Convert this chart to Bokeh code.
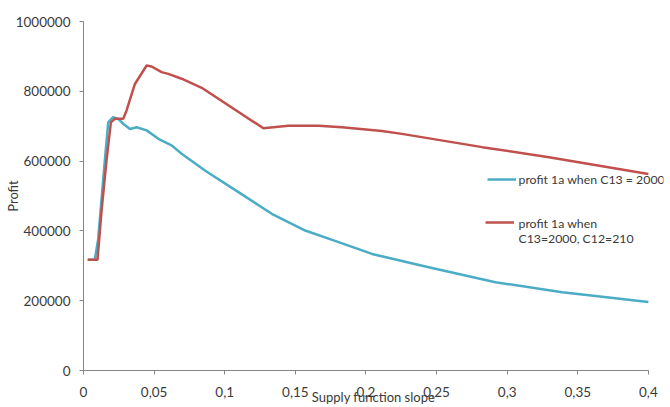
from bokeh.plotting import figure
from bokeh.models import (Range1d, FixedTicker, Legend, LegendItem, Label,
                          BasicTickFormatter)
from bokeh.embed import file_html
from bokeh.resources import INLINE

# ---- data ----
blue_x = [0.003, 0.008, 0.0104, 0.0151, 0.0175, 0.021, 0.0246, 0.0281, 0.0329,
          0.0376, 0.0447, 0.053, 0.0624, 0.0695, 0.086, 0.1097, 0.1333, 0.157,
          0.1806, 0.2043, 0.2444, 0.2917, 0.339, 0.4]
blue_y = [317000, 317000, 377000, 602000, 711000, 726000, 721000, 707000, 692000,
          697000, 688000, 664000, 645000, 621000, 573000, 511000, 449000, 401000,
          368000, 334000, 296000, 253000, 224000, 196000]

red_x = [0.003, 0.0099, 0.0128, 0.0163, 0.0194, 0.0222, 0.0281, 0.0305, 0.0364,
         0.0447, 0.0482, 0.0553, 0.06, 0.0695, 0.0837, 0.1274, 0.145, 0.1664,
         0.183, 0.2113, 0.2255, 0.2823, 0.3296, 0.4]
red_y = [317000, 317000, 458000, 602000, 711000, 721000, 721000, 745000, 821000,
         874000, 871000, 855000, 850000, 836000, 810000, 694000, 701000, 701000,
         697000, 686000, 678000, 640000, 611000, 563000]

x_ticks = [0, 0.05, 0.1, 0.15, 0.2, 0.25, 0.3, 0.35, 0.4]
x_tick_labels = ["0", "0,05", "0,1", "0,15", "0,2", "0,25", "0,3", "0,35", "0,4"]
y_ticks = [0, 200000, 400000, 600000, 800000, 1000000]

blue_label = "profit 1a when C13 = 2000"
red_label = "profit 1a when\nC13=2000, C12=210"
x_title = "Supply function slope"
y_title = "Profit"

BLUE = "#4bacc6"
RED = "#c0504d"
AXIS = "#868686"
TXT = "#3a3a3a"
FONT = "Lato"

# the frame reaches a little past x = 0.4 so the legend text is not clipped;
# the axis line itself stops at the last tick (bounds)
X_END = 0.4107

p = figure(width=670, height=407, output_backend="svg", toolbar_location=None,
           x_range=Range1d(0, X_END), y_range=Range1d(0, 1000000),
           min_border_left=83, min_border_right=7, min_border_top=21,
           min_border_bottom=37)
p.outline_line_color = None
p.xgrid.visible = False
p.ygrid.visible = False
p.background_fill_color = "white"
p.border_fill_color = "white"

rb = p.line(blue_x, blue_y, line_color=BLUE, line_width=2.5)
rr = p.line(red_x, red_y, line_color=RED, line_width=2.5)

TF = "13px"
LF = "12.3px"
for ax in (p.xaxis[0], p.yaxis[0]):
    ax.axis_line_color = AXIS
    ax.major_tick_line_color = AXIS
    ax.minor_tick_line_color = None
    ax.major_tick_out = 4
    ax.major_tick_in = 0
    ax.major_label_text_font = FONT
    ax.major_label_text_font_size = "13.5px"
    ax.major_label_text_color = TXT
    ax.axis_label_text_font = FONT
    ax.axis_label_text_font_size = TF
    ax.axis_label_text_font_style = "normal"
    ax.axis_label_text_color = TXT

xa = p.xaxis[0]
xa.bounds = (x_ticks[0], x_ticks[-1])
xa.ticker = FixedTicker(ticks=x_ticks)
xa.major_label_overrides = {t: l for t, l in zip(x_ticks, x_tick_labels)}
xa.major_label_standoff = 12
xa.axis_label = x_title
xa.axis_label_standoff = -11

ya = p.yaxis[0]
ya.ticker = FixedTicker(ticks=y_ticks)
ya.formatter = BasicTickFormatter(use_scientific=False)
ya.major_label_standoff = 9
ya.axis_label = y_title
ya.axis_label_standoff = -8

# legend: swatches via Legend, texts as labels
for rend, loc in ((rb, (404, 186)), (rr, (402, 143))):
    lg = Legend(items=[LegendItem(label=" ", renderers=[rend])], location=loc,
                glyph_width=29, glyph_height=10, label_standoff=0,
                label_width=1, label_height=1, label_text_font_size="1px",
                padding=0, margin=0, spacing=0, border_line_color=None,
                background_fill_alpha=0)
    p.add_layout(lg)

p.add_layout(Label(x=435, y=191, x_units="screen", y_units="screen",
                   text=blue_label, text_font=FONT, text_font_size=LF,
                   text_color=TXT, text_align="left", text_baseline="middle"))
p.add_layout(Label(x=435, y=139.5, x_units="screen", y_units="screen",
                   text=red_label, text_font=FONT, text_font_size=LF,
                   text_line_height=1.0,
                   text_color=TXT, text_align="left", text_baseline="middle"))

open("out.html", "w").write(file_html(p, INLINE))
